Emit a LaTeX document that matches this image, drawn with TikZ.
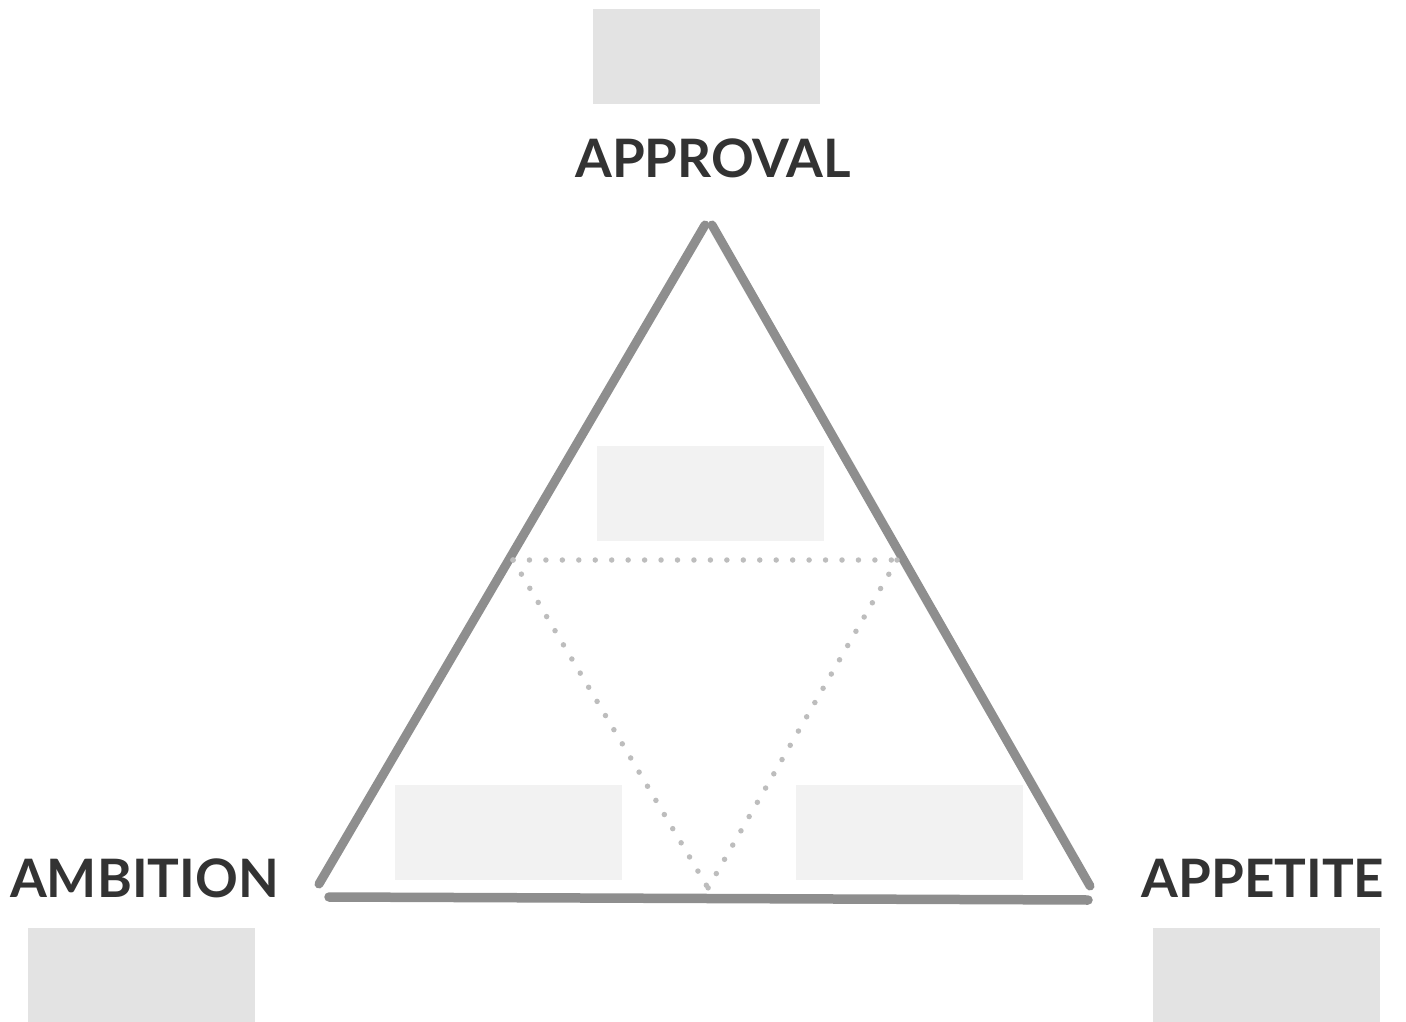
\documentclass[tikz,border=0pt]{standalone}
\usepackage{fontspec}
\setmainfont{Lato}
\begin{document}
\begin{tikzpicture}[x=1pt,y=-1pt,
  darkbox/.style={fill=boxdark,draw=none,minimum width=227pt,minimum height=95pt,inner sep=0pt,outer sep=0pt},
  lightbox/.style={fill=boxlight,draw=none,minimum width=227pt,minimum height=95pt,inner sep=0pt,outer sep=0pt},
  lbl/.style={text=labeltext,font=\fontsize{53}{60}\selectfont\bfseries,inner sep=0pt},
  side/.style={draw=sidegray,line width=9pt,line cap=round},
  dots/.style={draw=dotgray,line width=5.5pt,line cap=round,dash pattern=on 0pt off 16.45pt}]
\definecolor{boxdark}{HTML}{E3E3E3}
\definecolor{boxlight}{HTML}{F2F2F2}
\definecolor{labeltext}{HTML}{333333}
\definecolor{sidegray}{HTML}{8E8E8E}
\definecolor{dotgray}{HTML}{BDBDBD}
\useasboundingbox (0,0) rectangle (1406,1022);
% boxes
\node[darkbox] (topbox) at (706.5,56.5) {};
\node[lightbox] (midbox) at (710.5,493.5) {};
\node[lightbox] (leftin) at (508.5,832.5) {};
\node[lightbox] (rightin) at (909.5,832.5) {};
\node[darkbox] (leftout) at (141.5,975) {};
\node[darkbox] (rightout) at (1266.5,975) {};
% labels
\node[lbl,anchor=base] (approval) at (713,178) {APPROVAL};
\node[lbl,anchor=base] (ambition) at (144.5,897) {AMBITION};
\node[lbl,anchor=base] (appetite) at (1263,897) {APPETITE};
% triangle
\coordinate (apexL) at (705,225);
\coordinate (apexR) at (712,225);
\coordinate (botL) at (319,884);
\coordinate (botR) at (1090,886);
\coordinate (baseL) at (329,897);
\coordinate (baseR) at (1088,900);
\draw[side] (botL) -- (apexL);
\draw[side] (apexR) -- (botR);
\draw[side,line width=9.5pt] (baseL) -- (baseR);
% dotted inner triangle
\coordinate (dTL) at (513,560);
\coordinate (dTR) at (897,560);
\coordinate (dB) at (708,888);
\draw[dots] (dTL) -- (dTR);
\draw[dots] (dTL) -- (dB);
\draw[dots] (dTR) -- (dB);
\end{tikzpicture}
\end{document}
